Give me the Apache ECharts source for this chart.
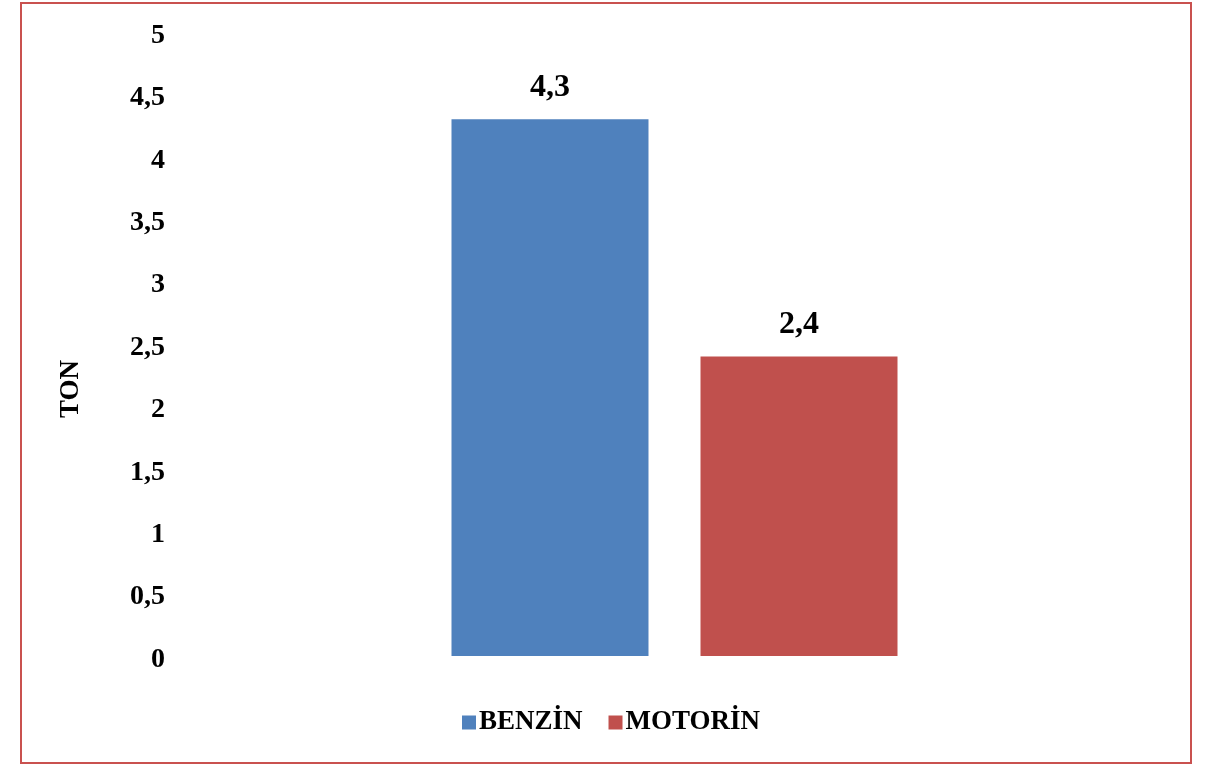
<!DOCTYPE html>
<html>
<head>
<meta charset="utf-8">
<script src="https://cdn.jsdelivr.net/npm/echarts@6/dist/echarts.min.js"></script>
<style>
html,body{margin:0;padding:0;background:#fff;}
#chart{width:1222px;height:766px;}
</style>
</head>
<body>
<div id="chart"></div>
<script>
const categories = [''];
const seriesNames = ['BENZİN', 'MOTORİN'];
const benzinValues = [4.3];
const motorinValues = [2.4];
const yAxisName = 'TON';
const colors = ['#4F81BD', '#C0504D'];

const font = '"Liberation Serif", "Times New Roman", serif';
const fmt = v => String(v).replace('.', ',');

const chart = echarts.init(document.getElementById('chart'), null, {renderer: 'canvas'});
chart.setOption({
  animation: false,
  backgroundColor: '#fff',
  color: colors,
  grid: {left: 180, right: 53, top: 32, bottom: 110},
  legend: {
    bottom: 25,
    left: 'center',
    itemWidth: 14,
    itemHeight: 14,
    itemGap: 26,
    icon: 'rect',
    textStyle: {fontFamily: font, fontWeight: 'bold', fontSize: 27, color: '#000', padding: [0,0,0,-2]},
    data: seriesNames
  },
  xAxis: {
    type: 'category',
    data: categories,
    axisLine: {show: false},
    axisTick: {show: false},
    axisLabel: {show: false}
  },
  yAxis: {
    type: 'value',
    min: 0, max: 5, interval: 0.5,
    axisLine: {show: false},
    axisTick: {show: false},
    splitLine: {show: false},
    axisLabel: {
      margin: 15,
      fontFamily: font, fontWeight: 'bold', fontSize: 28, color: '#000',
      formatter: v => '{a|' + fmt(v) + '}',
      rich: {a: {padding: [7, 0, 0, 0], fontFamily: font, fontWeight: 'bold', fontSize: 28, color: '#000'}}
    }
  },
  graphic: [
    {type: 'rect', shape: {x: 21, y: 3, width: 1170, height: 760},
     style: {fill: 'none', stroke: '#C9514F', lineWidth: 2}, silent: true},
    {type: 'text', x: 71, y: 389, rotation: Math.PI / 2,
     style: {text: yAxisName, fontFamily: font, fontWeight: 'bold', fontSize: 27,
             fill: '#000', align: 'center', verticalAlign: 'middle'}}
  ],
  series: [
    {name: seriesNames[0], type: 'bar', data: benzinValues, barWidth: 197, barGap: '26.4%',
     label: {show: true, position: 'top', distance: 16, formatter: p => fmt(p.value),
             fontFamily: font, fontWeight: 'bold', fontSize: 32, color: '#000'}},
    {name: seriesNames[1], type: 'bar', data: motorinValues, barWidth: 197,
     label: {show: true, position: 'top', distance: 16, formatter: p => fmt(p.value),
             fontFamily: font, fontWeight: 'bold', fontSize: 32, color: '#000'}}
  ]
});
</script>
</body>
</html>
